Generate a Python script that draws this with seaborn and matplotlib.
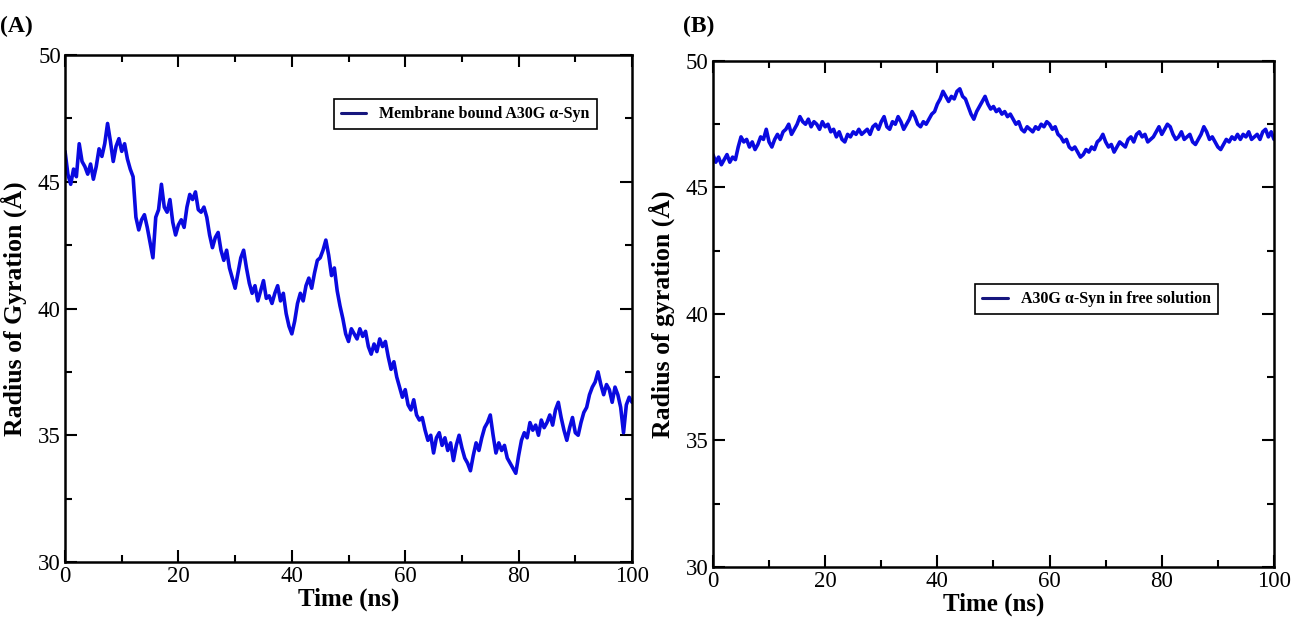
import numpy as np
import matplotlib
matplotlib.use("Agg")
import matplotlib.pyplot as plt
import seaborn as sns
from matplotlib.lines import Line2D
from matplotlib.ticker import MultipleLocator

# ---------------- data ----------------
time_ns = np.linspace(0, 100, 201)

rg_membrane = [
    46.2, 45.3, 44.9, 45.5, 45.2, 46.5, 45.8, 45.6, 45.3, 45.7,
    45.1, 45.6, 46.3, 46.0, 46.5, 47.3, 46.6, 45.8, 46.4, 46.7,
    46.2, 46.5, 45.9, 45.5, 45.2, 43.6, 43.1, 43.5, 43.7, 43.2,
    42.6, 42.0, 43.6, 43.9, 44.9, 44.0, 43.8, 44.3, 43.4, 42.9,
    43.3, 43.5, 43.2, 44.0, 44.5, 44.3, 44.6, 43.9, 43.8, 44.0,
    43.6, 42.9, 42.4, 42.8, 43.0, 42.3, 41.9, 42.3, 41.6, 41.2,
    40.8, 41.4, 42.0, 42.3, 41.6, 41.0, 40.6, 40.9, 40.3, 40.7,
    41.1, 40.4, 40.5, 40.2, 40.6, 40.9, 40.3, 40.6, 39.8, 39.3,
    39.0, 39.5, 40.2, 40.6, 40.3, 40.9, 41.2, 40.8, 41.4, 41.9,
    42.0, 42.3, 42.7, 42.1, 41.3, 41.6, 40.7, 40.1, 39.6, 39.0,
    38.7, 39.2, 39.0, 38.8, 39.2, 38.9, 39.1, 38.5, 38.2, 38.6,
    38.3, 38.8, 38.5, 38.7, 38.1, 37.6, 37.9, 37.3, 36.9, 36.5,
    36.8, 36.2, 36.0, 36.4, 35.8, 35.6, 35.7, 35.2, 34.8, 35.0,
    34.3, 34.9, 35.1, 34.6, 34.9, 34.4, 34.7, 34.0, 34.6, 35.0,
    34.5, 34.1, 33.9, 33.6, 34.2, 34.7, 34.4, 34.9, 35.3, 35.5,
    35.8, 35.0, 34.3, 34.7, 34.4, 34.6, 34.1, 33.9, 33.7, 33.5,
    34.2, 34.8, 35.1, 34.9, 35.5, 35.2, 35.4, 35.0, 35.6, 35.3,
    35.5, 35.8, 35.4, 36.0, 36.3, 35.7, 35.2, 34.8, 35.3, 35.7,
    35.1, 35.0, 35.5, 35.9, 36.1, 36.6, 36.9, 37.1, 37.5, 37.0,
    36.6, 37.0, 36.8, 36.3, 36.9, 36.6, 36.1, 35.1, 36.2, 36.5,
    36.3,
]

rg_free = [
    46.3, 46.0, 46.2, 45.9, 46.1, 46.3, 46.0, 46.2, 46.1, 46.6,
    47.0, 46.8, 46.9, 46.6, 46.8, 46.5, 46.7, 47.0, 46.9, 47.3,
    46.8, 46.6, 46.9, 47.1, 46.9, 47.2, 47.3, 47.5, 47.1, 47.3,
    47.5, 47.8, 47.6, 47.5, 47.7, 47.4, 47.6, 47.5, 47.3, 47.6,
    47.4, 47.5, 47.2, 47.3, 47.0, 47.2, 46.9, 46.8, 47.1, 47.0,
    47.2, 47.1, 47.3, 47.1, 47.2, 47.3, 47.1, 47.4, 47.5, 47.3,
    47.6, 47.8, 47.4, 47.3, 47.6, 47.5, 47.8, 47.6, 47.3, 47.5,
    47.7, 48.0, 47.8, 47.5, 47.4, 47.6, 47.5, 47.7, 47.9, 48.0,
    48.3, 48.5, 48.8, 48.6, 48.4, 48.6, 48.5, 48.8, 48.9, 48.6,
    48.5, 48.2, 47.9, 47.7, 48.0, 48.2, 48.4, 48.6, 48.3, 48.1,
    48.2, 48.0, 48.1, 47.9, 48.0, 47.8, 47.9, 47.7, 47.5, 47.6,
    47.3, 47.2, 47.4, 47.3, 47.2, 47.4, 47.3, 47.5, 47.4, 47.6,
    47.5, 47.3, 47.4, 47.1, 47.0, 46.8, 46.9, 46.6, 46.5, 46.6,
    46.4, 46.2, 46.3, 46.5, 46.4, 46.6, 46.5, 46.8, 46.9, 47.1,
    46.8, 46.6, 46.7, 46.4, 46.6, 46.8, 46.7, 46.6, 46.9, 47.0,
    46.8, 47.1, 47.2, 47.0, 47.1, 46.8, 46.9, 47.0, 47.2, 47.4,
    47.1, 47.3, 47.5, 47.4, 47.1, 46.9, 47.0, 47.2, 46.9, 47.0,
    47.1, 46.8, 46.7, 46.9, 47.1, 47.4, 47.2, 46.9, 47.0, 46.8,
    46.6, 46.5, 46.7, 46.9, 46.8, 47.0, 46.9, 47.1, 46.9, 47.1,
    47.0, 47.2, 46.9, 47.0, 47.1, 46.9, 47.2, 47.3, 47.0, 47.2,
    46.9,
]

x_ticks = [0, 20, 40, 60, 80, 100]
y_ticks = [30, 35, 40, 45, 50]
legend_a = "Membrane bound A30G α-Syn"
legend_b = "A30G α-Syn in free solution"
ylabel_a = "Radius of Gyration (Å)"
ylabel_b = "Radius of gyration (Å)"
xlabel = "Time (ns)"

# ---------------- style ----------------
sns.set_style("ticks")
plt.rcParams['font.family'] = ['Liberation Serif', 'DejaVu Serif']
plt.rcParams['axes.linewidth'] = 1.8
for key in ['text.color', 'axes.labelcolor', 'xtick.color', 'ytick.color',
            'axes.edgecolor']:
    plt.rcParams[key] = 'black'

line_color = "#0a0ae0"
legend_color = "#16167e"

fig = plt.figure(figsize=(12.93, 6.21), dpi=100)
ax_a = fig.add_axes([0.0503, 0.095, 0.4385, 0.8164])
ax_b = fig.add_axes([0.5514, 0.087, 0.4339, 0.8148])


def style_axis(ax, ylabel):
    ax.set_xlim(0, 100)
    ax.set_ylim(30, 50)
    ax.set_xticks(x_ticks)
    ax.set_yticks(y_ticks)
    ax.xaxis.set_minor_locator(MultipleLocator(10))
    ax.yaxis.set_minor_locator(MultipleLocator(2.5))
    ax.tick_params(which='both', direction='in', top=True, right=True,
                   width=1.5, labelsize=16.5, pad=3, colors='black')
    ax.tick_params(which='major', length=8.5)
    ax.tick_params(which='minor', length=5)
    for s in ax.spines.values():
        s.set_visible(True)
        s.set_linewidth(1.8)
        s.set_color("black")
    ax.set_xlabel(xlabel, fontsize=18, fontweight='bold', labelpad=0, color='black')
    ax.set_ylabel(ylabel, fontsize=18.5, fontweight='bold', labelpad=8, color='black')


sns.lineplot(x=time_ns, y=rg_membrane, ax=ax_a, color=line_color,
             linewidth=2.6, legend=False)
sns.lineplot(x=time_ns, y=rg_free, ax=ax_b, color=line_color,
             linewidth=2.6, legend=False)

style_axis(ax_a, ylabel_a)
style_axis(ax_b, ylabel_b)

leg_kw = dict(frameon=True, fancybox=False, framealpha=1, edgecolor='black',
              handlelength=1.6, borderpad=0.45, handletextpad=0.8,
              prop={'family': 'Liberation Serif', 'weight': 'bold', 'size': 11.5})
la = ax_a.legend([Line2D([], [], color=legend_color, lw=2.2)], [legend_a],
                 loc='upper right', bbox_to_anchor=(0.952, 0.929), **leg_kw)
la.get_frame().set_linewidth(1.2)
lb = ax_b.legend([Line2D([], [], color=legend_color, lw=2.2)], [legend_b],
                 loc='upper right', bbox_to_anchor=(0.914, 0.575), **leg_kw)
lb.get_frame().set_linewidth(1.2)
for lg in (la, lb):
    for t in lg.get_texts():
        t.set_color('black')

fig.text(0.0, 0.975, "(A)", fontsize=17, fontweight='bold', va='top', ha='left')
fig.text(0.528, 0.975, "(B)", fontsize=17, fontweight='bold', va='top', ha='left')

fig.savefig("out.png", dpi=100)
